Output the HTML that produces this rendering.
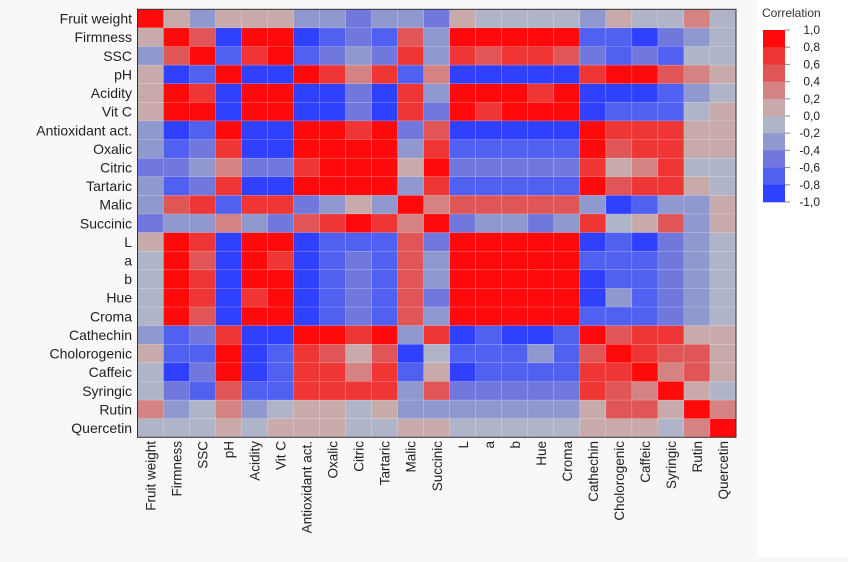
<!DOCTYPE html>
<html><head><meta charset="utf-8"><style>
body{margin:0;width:848px;height:557px;background:#f8f8f8;overflow:hidden;font-family:"Liberation Sans",sans-serif}
</style></head><body>
<svg id="chart" width="848" height="557" xmlns="http://www.w3.org/2000/svg">
<rect x="757" y="0" width="91" height="557" fill="#ffffff"/>
<g id="cells"></g>
<rect x="137.5" y="9.3" width="598.5" height="428" fill="none" stroke="#333" stroke-width="1"/>
<g id="ylabels"></g>
<g id="xlabels"></g>
<text x="762" y="17" font-size="12" fill="#333">Correlation</text>
<g id="legend"></g>
</svg>
<script>
const labels=["Fruit weight","Firmness","SSC","pH","Acidity","Vit C","Antioxidant act.","Oxalic","Citric","Tartaric","Malic","Succinic","L","a","b","Hue","Croma","Cathechin","Cholorogenic","Caffeic","Syringic","Rutin","Quercetin"];
const legendTicks=["1,0","0,8","0,6","0,4","0,2","0,0","-0,2","-0,4","-0,6","-0,8","-1,0"];
const bandColors=["#3040ff","#5060f0","#7078de","#9098d0","#b0b4c8","#c8aaaa","#d48282","#e05656","#f03535","#ff0a0a"];
const m=[
[1,0.2,-0.3,0.2,0.2,0.2,-0.3,-0.3,-0.4,-0.3,-0.3,-0.4,0.2,0,0,0,0,-0.3,0.2,0,0,0.4,0],
[0.2,1,0.6,-0.9,1,1,-0.9,-0.7,-0.5,-0.7,0.6,-0.2,1,1,1,1,1,-0.6,-0.6,-0.9,-0.5,-0.2,0],
[-0.2,0.6,1,-0.6,0.8,1,-0.6,-0.4,-0.2,-0.4,0.8,-0.2,0.8,0.6,0.8,0.8,0.6,-0.4,-0.6,-0.4,-0.6,0,0],
[0.2,-0.9,-0.6,1,-0.9,-0.9,1,0.8,0.4,0.8,-0.6,0.4,-0.9,-0.9,-0.9,-0.9,-0.9,0.8,1,1,0.6,0.4,0.2],
[0.2,1,0.8,-0.9,1,1,-0.9,-0.9,-0.4,-0.9,0.8,-0.3,1,1,1,0.8,1,-0.9,-0.9,-0.9,-0.6,-0.2,0],
[0.2,1,1,-0.9,1,1,-0.9,-0.9,-0.4,-0.9,0.8,-0.4,1,0.8,1,1,1,-0.9,-0.6,-0.6,-0.6,0,0.2],
[-0.3,-0.9,-0.6,1,-0.9,-0.9,1,1,0.8,1,-0.4,0.6,-0.9,-0.9,-0.9,-0.9,-0.9,1,0.8,0.8,0.8,0.2,0.2],
[-0.3,-0.6,-0.4,0.8,-0.9,-0.9,1,1,1,1,-0.3,0.8,-0.6,-0.6,-0.6,-0.6,-0.6,1,0.6,0.8,0.8,0.2,0.2],
[-0.4,-0.5,-0.2,0.4,-0.4,-0.4,0.8,1,1,1,0.2,1,-0.4,-0.4,-0.4,-0.4,-0.4,0.8,0.2,0.4,0.8,0,0],
[-0.3,-0.7,-0.4,0.8,-0.9,-0.9,1,1,1,1,-0.3,0.8,-0.6,-0.6,-0.6,-0.6,-0.6,1,0.6,0.8,0.8,0.2,0],
[-0.3,0.6,0.8,-0.6,0.8,0.8,-0.4,-0.3,0.2,-0.3,1,0.4,0.6,0.6,0.6,0.6,0.6,-0.2,-0.9,-0.6,-0.2,-0.2,0.2],
[-0.4,-0.2,-0.2,0.4,-0.2,-0.4,0.6,0.8,1,0.8,0.4,1,-0.4,-0.2,-0.2,-0.4,-0.2,0.8,0,0.2,0.6,-0.2,0.2],
[0.2,1,0.8,-0.9,1,1,-0.9,-0.6,-0.6,-0.6,0.6,-0.4,1,1,1,1,1,-0.9,-0.6,-0.9,-0.4,-0.2,0],
[0,1,0.6,-0.9,1,0.8,-0.9,-0.6,-0.5,-0.6,0.6,-0.2,1,1,1,1,1,-0.6,-0.6,-0.6,-0.4,-0.2,0],
[0,1,0.8,-0.9,1,1,-0.9,-0.6,-0.5,-0.6,0.6,-0.2,1,1,1,1,1,-0.9,-0.6,-0.6,-0.4,-0.2,0],
[0,1,0.8,-0.9,0.8,1,-0.9,-0.6,-0.5,-0.6,0.6,-0.4,1,1,1,1,1,-0.9,-0.3,-0.6,-0.4,-0.2,0],
[0,1,0.6,-0.9,1,1,-0.9,-0.6,-0.5,-0.6,0.6,-0.2,1,1,1,1,1,-0.6,-0.6,-0.6,-0.4,-0.2,0],
[-0.2,-0.6,-0.4,0.8,-0.9,-0.9,1,1,0.8,1,-0.2,0.8,-0.9,-0.6,-0.9,-0.9,-0.6,1,0.6,0.8,0.8,0.2,0.2],
[0.2,-0.6,-0.6,1,-0.9,-0.6,0.8,0.6,0.1,0.6,-0.9,0,-0.6,-0.6,-0.6,-0.3,-0.6,0.6,1,0.8,0.6,0.6,0.2],
[0,-0.9,-0.4,1,-0.9,-0.6,0.8,0.8,0.4,0.8,-0.6,0.2,-0.9,-0.6,-0.6,-0.6,-0.6,0.8,0.8,1,0.4,0.6,0.2],
[0,-0.4,-0.6,0.6,-0.6,-0.6,0.8,0.8,0.8,0.8,-0.2,0.6,-0.4,-0.4,-0.4,-0.4,-0.4,0.8,0.6,0.4,1,0.2,0],
[0.4,-0.2,0,0.4,-0.2,0,0.2,0.2,0,0.2,-0.2,-0.2,-0.2,-0.2,-0.2,-0.2,-0.2,0.2,0.6,0.6,0.2,1,0.4],
[0,0,0,0.2,0,0.2,0.2,0.2,0,0,0.2,0.2,0,0,0,0,0,0.2,0.2,0.2,0,0.4,1]
];
const NS="http://www.w3.org/2000/svg";
const X0=137.5,Y0=9.3,CW=598.5/23,CH=428/23;
const xPos=i=>X0+i*CW, yPos=j=>Y0+j*CH;
function color(v){let b=Math.floor((v+1)/0.2-0.001);b=Math.max(0,Math.min(9,b));return bandColors[b];}
const cells=document.getElementById('cells');
for(let r=0;r<m.length;r++)for(let c=0;c<m[r].length;c++){
 const e=document.createElementNS(NS,'rect');
 e.setAttribute('x',xPos(c));e.setAttribute('y',yPos(r));
 e.setAttribute('width',CW);e.setAttribute('height',CH);
 e.setAttribute('fill',color(m[r][c]));
 e.setAttribute('stroke','rgba(255,255,255,0.25)');e.setAttribute('stroke-width','0.5');
 
 
 cells.appendChild(e);
}
const yl=document.getElementById('ylabels'),xl=document.getElementById('xlabels');
labels.forEach((t,i)=>{
 const a=document.createElementNS(NS,'text');
 a.setAttribute('x',132);a.setAttribute('y',yPos(i)+CH/2+5);
 a.setAttribute('text-anchor','end');a.setAttribute('font-size','14');a.setAttribute('fill','#222');
 a.textContent=t;
 
 
 yl.appendChild(a);
 const b=document.createElementNS(NS,'text');
 const cx=xPos(i)+CW/2+5,cy=441;
 b.setAttribute('transform','translate('+cx+','+cy+') rotate(-90)');
 b.setAttribute('text-anchor','end');b.setAttribute('font-size','13.5');b.setAttribute('fill','#222');
 b.textContent=t;
 
 
 xl.appendChild(b);
});
const lg=document.getElementById('legend');
const LX=763,LY=30,LH=172/10;
for(let k=0;k<10;k++){
 const r=document.createElementNS(NS,'rect');
 r.setAttribute('x',LX);r.setAttribute('y',LY+k*LH);r.setAttribute('width',22);r.setAttribute('height',LH+0.3);
 r.setAttribute('fill',bandColors[9-k]);
 
 
 lg.appendChild(r);
}
legendTicks.forEach((t,k)=>{
 const y=LY+k*LH;
 const l=document.createElementNS(NS,'line');
 l.setAttribute('x1',LX+22);l.setAttribute('x2',LX+27);l.setAttribute('y1',y);l.setAttribute('y2',y);l.setAttribute('stroke','#888');
 
 
 lg.appendChild(l);
 const tx=document.createElementNS(NS,'text');
 tx.setAttribute('x',820);tx.setAttribute('y',y+4);tx.setAttribute('text-anchor','end');
 tx.setAttribute('font-size','12');tx.setAttribute('fill','#222');
 tx.textContent=t;
 
 
 lg.appendChild(tx);
});
</script>
</body></html>
